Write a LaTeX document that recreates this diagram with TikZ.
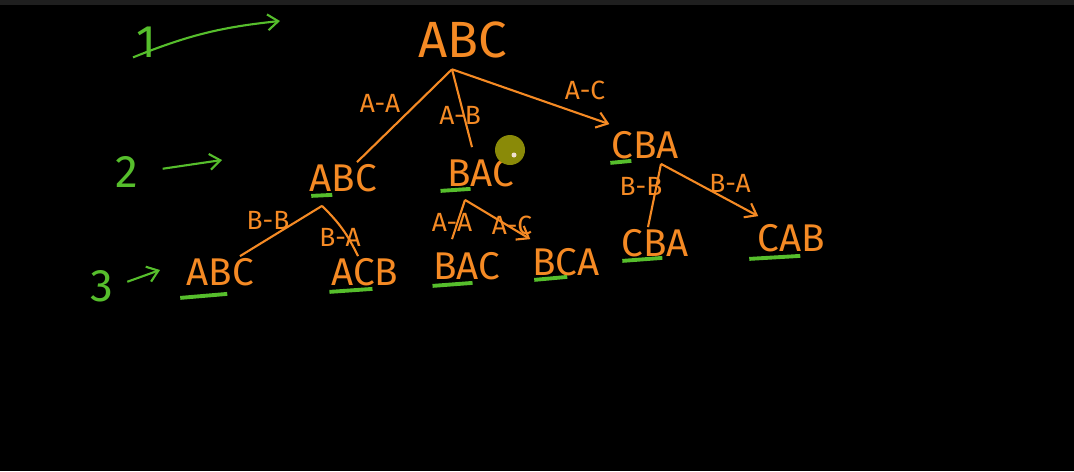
\documentclass[tikz,border=0pt]{standalone}
\usepackage{fontspec}
\setmainfont{Fira Sans}
\usepackage{tikz}
\usetikzlibrary{arrows.meta}
\definecolor{naranja}{RGB}{245,138,36}
\definecolor{verde}{RGB}{86,190,44}
\definecolor{puntero}{RGB}{138,138,8}
\tikzset{
	x=0.02cm, y=-0.02cm, % un pixel de la captura
	>={Straight Barb[length=6pt,width=9pt]}, % punta abierta, como a mano
	perm/.style={text=naranja, inner sep=1pt, font=\fontsize{22}{22}\selectfont}, % permutaciones
	etiq/.style={text=naranja, inner sep=1pt, font=\fontsize{15}{15}\selectfont}, % etiquetas de los arcos
	nivel/.style={text=verde, inner sep=1pt, font=\fontsize{26}{26}\selectfont}, % numeros de nivel
	arco/.style={draw=naranja, line width=1.2pt}, % arcos del arbol
	flecha/.style={draw=verde, line width=1.2pt, ->}, % flechas de nivel
	subr/.style={draw=verde, line width=2.2pt} % subrayados
}

\begin{document}
\begin{tikzpicture}
	\fill[black] (0,0) rectangle (1074,471);
	\fill[black!88] (0,0) rectangle (1074,5);
	\node[perm, font=\fontsize{29}{29}\selectfont] (r) at (463,40) {ABC};
	\node[perm] (a) at (343,178) {ABC};
	\node[perm] (b) at (481,173) {BAC};
	\node[perm] (c) at (645,145) {CBA};
	\node[perm] (aa) at (220,272) {ABC};
	\node[perm] (ab) at (365,272) {ACB};
	\node[perm] (ba) at (467,266) {BAC};
	\node[perm] (bb) at (566,262) {BCA};
	\node[perm] (ca) at (655,243) {CBA};
	\node[perm] (cb) at (791,238) {CAB};

	\draw[arco] ([xshift=-0.22cm,yshift=-0.18cm]r.south) -- ([xshift=0.28cm]a.north);
	\draw[arco] ([xshift=-0.22cm,yshift=-0.18cm]r.south) -- ([xshift=-0.18cm,yshift=0.2cm]b.north);
	\draw[arco, ->] ([xshift=-0.22cm,yshift=-0.18cm]r.south) -- ([yshift=0.1cm]c.north west);
	\draw[arco] ([xshift=-0.42cm,yshift=-0.24cm]a.south) -- ([xshift=0.4cm]aa.north);
	\draw[arco] ([xshift=-0.42cm,yshift=-0.24cm]a.south) to[bend left=10] ([xshift=-0.14cm]ab.north);
	\draw[arco] ([xshift=-0.32cm,yshift=-0.22cm]b.south) -- ([xshift=-0.3cm,yshift=0.22cm]ba.north);
	\draw[arco, ->] ([xshift=-0.32cm,yshift=-0.22cm]b.south) -- ([yshift=0.14cm]bb.north west);
	\draw[arco] ([xshift=0.32cm,yshift=-0.06cm]c.south) -- ([xshift=-0.14cm]ca.north);
	\draw[arco, ->] ([xshift=0.32cm,yshift=-0.06cm]c.south) -- ([xshift=0.06cm,yshift=0.12cm]cb.north west);

	\node[etiq] (e1) at (380,103) {A-A};
	\node[etiq] (e2) at (460,115) {A-B};
	\node[etiq] (e3) at (585,90) {A-C};
	\node[etiq] (e4) at (268,220) {B-B};
	\node[etiq] (e5) at (340,237) {B-A};
	\node[etiq] (e6) at (452,222) {A-A};
	\node[etiq] (e7) at (512,225) {A-C};
	\node[etiq] (e8) at (641,186) {B-B};
	\node[etiq] (e9) at (730,183) {B-A};

	\draw[subr] ([xshift=0.08cm,yshift=-0.04cm]a.south west) -- ++(21,-1);
	\draw[subr] ([xshift=-0.1cm,yshift=-0.04cm]b.south west) -- ++(30,-2);
	\draw[subr] ([xshift=0.02cm,yshift=-0.04cm]c.south west) -- ++(21,-2);
	\draw[subr] ([xshift=-0.08cm,yshift=-0.2cm]aa.south west) -- ++(47,-4);
	\draw[subr] ([yshift=-0.08cm]ab.south west) -- ++(43,-3);
	\draw[subr] ([xshift=0.02cm,yshift=-0.08cm]ba.south west) -- ++(40,-3);
	\draw[subr] ([xshift=0.08cm,yshift=-0.04cm]bb.south west) -- ++(33,-3);
	\draw[subr] ([xshift=0.06cm,yshift=-0.04cm]ca.south west) -- ++(40,-3);
	\draw[subr] ([xshift=-0.12cm,yshift=-0.1cm]cb.south west) -- ++(51,-3);

	\node[nivel] (l1) at (146,42) {1};
	\node[nivel] (l2) at (127,172) {2};
	\node[nivel] (l3) at (102,286) {3};
	\coordinate (d1) at (280,21);
	\coordinate (d2) at (222,160);
	\coordinate (d3) at (160,270);
	\draw[flecha] ([xshift=-0.26cm,yshift=0.04cm]l1.south) to[bend left=8] (d1);
	\draw[flecha, shorten <=0.45cm] (l2.east) -- (d2);
	\draw[flecha, shorten <=0.25cm] (l3.east) -- (d3);

	\fill[puntero] (510,150) circle[radius=0.3cm];
	\fill[white!75!brown] (514,155) circle[radius=0.05cm];
\end{tikzpicture}
\end{document}
